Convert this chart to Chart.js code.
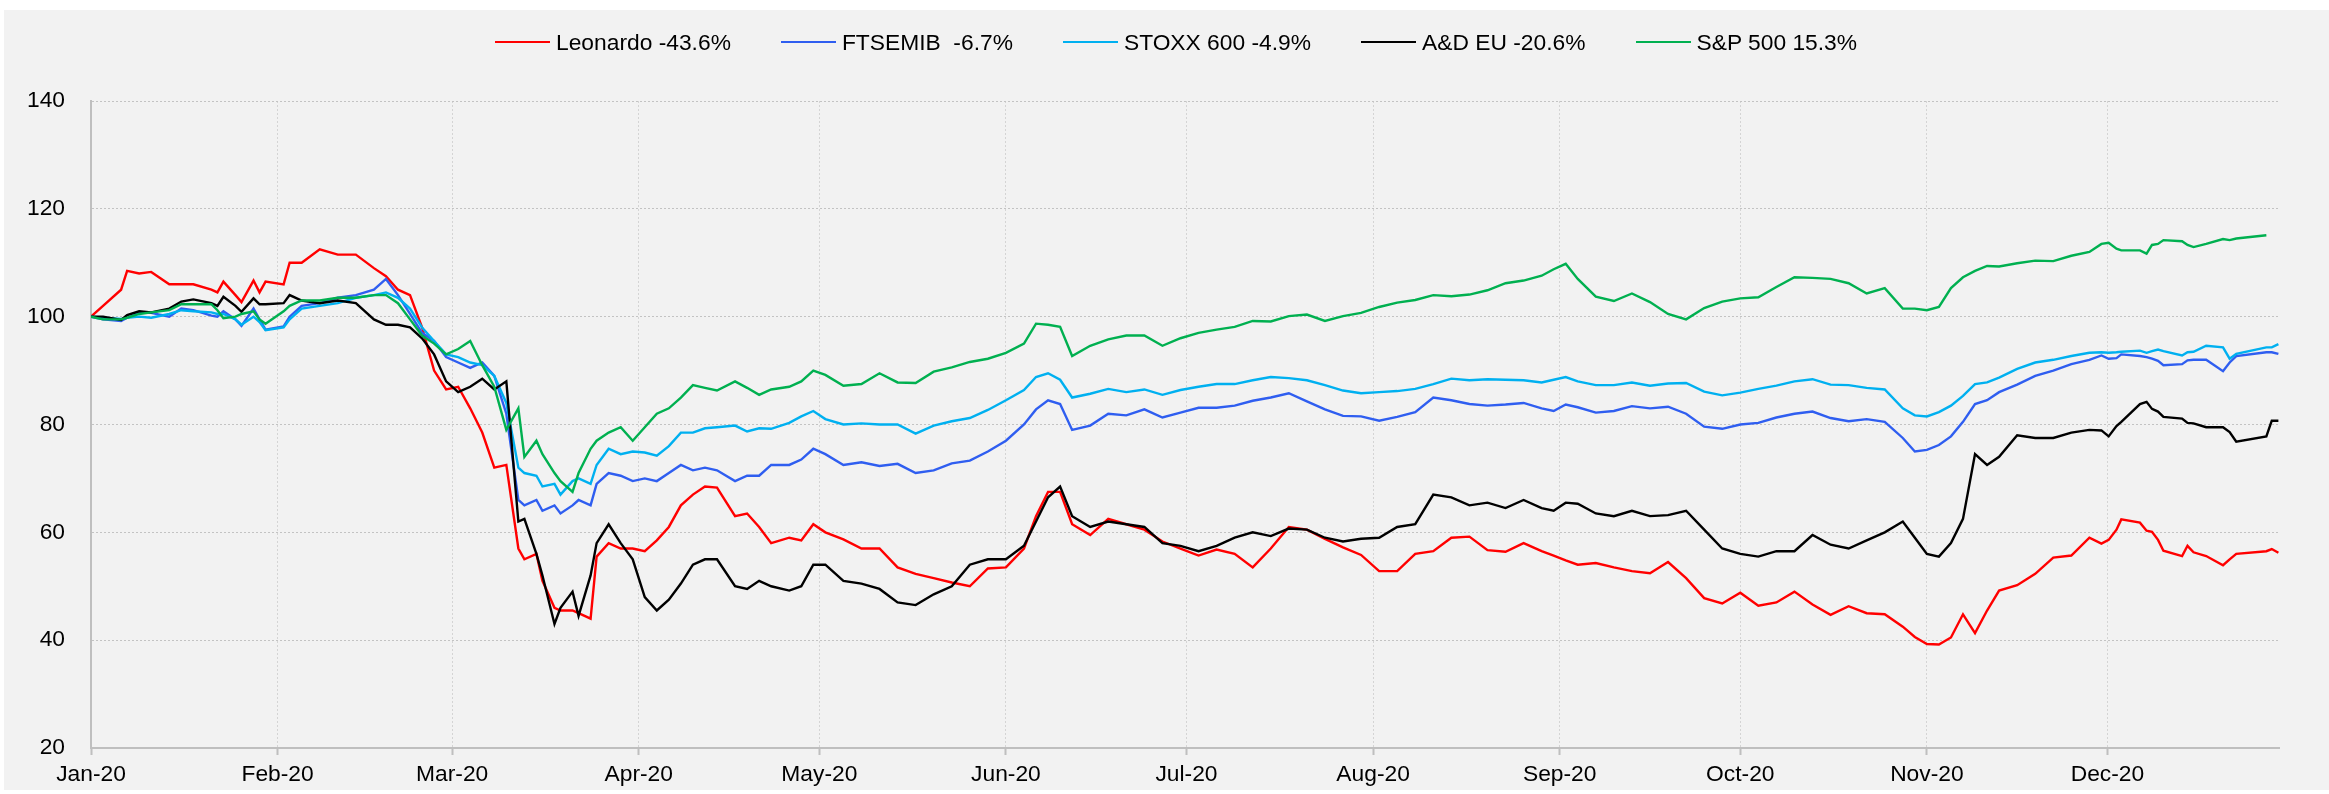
<!DOCTYPE html>
<html>
<head>
<meta charset="utf-8">
<title>Leonardo vs indices 2020</title>
<script src="https://cdn.jsdelivr.net/npm/chart.js@4.4.1/dist/chart.umd.min.js"></script>
<style>
  body { margin: 0; background: #fff; width: 2329px; height: 794px; overflow: hidden;
         font-family: "Liberation Sans", Arial, sans-serif; }
  #frame { position: absolute; left: 4px; top: 10px; width: 2325px; height: 780px; background: #f2f2f2; }
  #chart { position: absolute; left: 0; top: 0; }
  #legend { position: absolute; left: 491px; top: 19px; height: 26px; display: flex; align-items: center;
            font-size: 22.8px; color: #000; white-space: pre; }
  .item { display: flex; align-items: center; margin-right: 50px; }
  .swatch { width: 55px; height: 2px; margin-right: 6px; }
</style>
</head>
<body>
<div id="frame">
  <canvas id="chart" width="2325" height="780"></canvas>
  <div id="legend"></div>
</div>
<script>
// Sample points, in days since 1 Jan 2020
const days = [
  0,2,5,6,8,10,13,15,17,20,21,22,24,25,27,28,29,32,33,35,
  38,41,44,47,49,51,53,55,57,59,
  61,63,65,67,69,71,72,74,75,77,78,80,81,83,84,86,88,90,
  92,94,96,98,100,102,104,107,109,111,113,116,118,120,
  122,125,128,131,134,137,140,143,146,149,152,
  155,157,159,161,163,166,169,172,175,178,181,
  184,187,190,193,196,199,202,205,208,211,
  214,217,220,223,226,229,232,235,238,241,243,
  245,247,250,253,256,259,262,265,268,271,
  274,277,280,283,286,289,292,295,298,301,303,
  305,307,309,311,313,315,317,320,323,326,329,332,
  334,335.2,336.5,337.3,340.4,341.5,342.4,343.4,344.3,347.4,348.3,349.3,351.4,354.2,355.3,356.4,361.4,362.3,363.4
];

// Rebased to 100 (one row per month)
const leonardo = [
  100,102,105,108.5,108,108.3,106,106,106,105,104.5,106.5,104,102.7,106.7,104.5,106.5,106,110,110,
  112.5,111.5,111.5,109,107.5,105,104,98,90,86.5,
  87,83,78.5,72,72.5,57,55,56,51,46,45.5,45.5,45,44,55.5,58,57,57,
  56.5,58.5,61,65,67,68.5,68.3,63,63.5,61,58,59,58.5,61.5,
  60,58.7,57,57,53.5,52.3,51.5,50.7,50,53.3,53.5,
  57,63,67.5,67.5,61.5,59.5,62.5,61.5,60.5,58.3,57,
  55.7,56.8,56,53.5,57,61,60.5,58.8,57.2,55.8,
  52.8,52.8,56,56.5,59,59.2,56.7,56.4,58,56.5,55.7,
  54.8,54,54.3,53.5,52.8,52.4,54.5,51.5,47.8,46.8,
  48.8,46.4,47,49,46.6,44.7,46.3,45,44.8,42.5,40.6,
  39.3,39.2,40.5,44.8,41.3,45.5,49.2,50.2,52.3,55.3,55.7,59,
  57.9,58.6,60.5,62.4,61.8,60.3,60.1,58.6,56.6,55.6,57.5,56.3,55.6,53.9,55,56,56.5,56.9,56.2
];
const ftsemib = [
  100,99.5,99.2,99.8,100.8,100.7,100,101.5,101.2,100.2,100,101,99.5,98.3,101.5,99.5,97.6,98.2,100,102,
  102.5,103.5,104,105,107,104,100.5,97,95.5,92.5,
  91.5,90.5,91.5,89,82,66,65,66,64,65,63.5,65,66,65,69,71,70.5,69.5,
  70,69.5,71,72.5,71.5,72,71.5,69.5,70.5,70.5,72.5,72.5,73.5,75.5,
  74.5,72.5,73,72.3,72.7,71,71.5,72.8,73.3,75,77,
  80,82.8,84.5,83.8,79,79.8,82,81.7,82.8,81.3,82.2,
  83.1,83.1,83.5,84.4,85,85.8,84.3,82.8,81.6,81.5,
  80.7,81.4,82.3,85,84.5,83.8,83.5,83.7,84,83,82.5,
  83.7,83.2,82.2,82.5,83.4,83,83.3,82,79.6,79.2,
  80,80.3,81.3,82,82.4,81.2,80.6,81,80.5,77.5,75,
  75.3,76.2,77.8,80.5,83.8,84.5,86,87.4,89,90,91.2,92,
  92.8,92.2,92.3,93,92.7,92.5,92.2,91.8,91,91.2,91.9,92,92,89.9,91.5,92.7,93.4,93.4,93.1
];
const stoxx600 = [
  100,99.8,99.6,99.8,100,99.8,100.5,101.2,101,100.8,100.5,100.5,99.5,98.5,100,99,97.5,98,99.5,101.5,
  102,102.5,103.5,104,104.5,103.5,101.5,98,95.5,93,
  92.5,91.5,91,89,84,72,71,70.5,68.5,69,67,69.5,70,69,72.5,75.5,74.5,75,
  74.8,74.2,76,78.5,78.5,79.3,79.5,79.8,78.7,79.3,79.2,80.3,81.5,82.5,
  81,80,80.2,80,80,78.3,79.8,80.6,81.2,82.7,84.5,
  86.4,88.8,89.5,88.3,85,85.7,86.6,86,86.5,85.5,86.4,
  87,87.5,87.5,88.2,88.8,88.6,88.2,87.3,86.3,85.8,
  86,86.2,86.6,87.5,88.5,88.2,88.4,88.3,88.2,87.8,88.3,
  88.8,88,87.3,87.3,87.8,87.2,87.6,87.7,86.1,85.4,
  85.9,86.6,87.2,88,88.4,87.4,87.3,86.8,86.5,83,81.7,
  81.5,82.3,83.5,85.3,87.5,87.8,88.7,90.3,91.5,92,92.7,93.3,
  93.4,93.3,93.4,93.5,93.7,93.3,93.6,93.9,93.6,92.8,93.4,93.5,94.6,94.3,92.2,93.1,94.3,94.3,94.9
];
const aerodefEU = [
  100,100,99.4,100.3,101,100.8,101.5,102.8,103.2,102.5,102,103.7,102,100.9,103.4,102.3,102.3,102.5,104,103,
  102.5,103,102.5,99.5,98.5,98.5,98,96,93,88,
  86,87,88.5,86.5,88,62,62.5,56,52,43,46,49,44.5,52,58,61.5,58,55,
  48,45.5,47.5,50.5,54,55,55,50,49.5,51,50,49.2,50,54,
  54,51,50.5,49.5,47,46.5,48.5,50,54,55,55,
  57.5,62,66.5,68.5,63,61,62,61.5,61,58,57.5,
  56.5,57.5,59,60,59.3,60.7,60.5,59,58.3,58.8,
  59,61,61.5,67,66.5,65,65.5,64.5,66,64.5,64,
  65.5,65.3,63.5,63,64,63,63.2,64,60.5,57,
  56,55.5,56.5,56.5,59.5,57.7,57,58.5,60,62,59,
  56,55.5,58,62.5,74.5,72.5,74,78,77.5,77.5,78.5,79,
  78.9,77.8,79.7,80.5,83.8,84.2,82.9,82.4,81.4,81.1,80.3,80.2,79.5,79.5,78.6,76.8,77.8,80.7,80.7
];
const sp500 = [
  100,99.5,99.5,99.8,100.5,100.8,101.2,102.3,102.3,102.3,101.2,99.7,100,100.5,101,99.5,98.7,101,102,103,
  103,103.5,103.5,104,104,102.5,99.5,96.5,95,93,
  94,95.5,91,87,79,83,74,77,74.5,71,69.5,67.5,71,75.5,77,78.5,79.5,77,
  79.5,82,83,85,87.3,86.8,86.3,88,86.8,85.5,86.5,87,88,90,
  89.2,87.2,87.5,89.5,87.8,87.7,89.8,90.6,91.6,92.2,93.3,
  95,98.7,98.5,98.1,92.7,94.6,95.8,96.5,96.5,94.6,96,
  97,97.6,98.1,99.2,99.1,100.1,100.4,99.2,100.1,100.7,
  101.8,102.6,103.1,104,103.8,104.1,104.9,106.2,106.7,107.6,108.8,
  109.8,107,103.7,102.9,104.3,102.7,100.5,99.5,101.6,102.8,
  103.4,103.6,105.5,107.3,107.2,107,106.2,104.3,105.3,101.5,101.5,
  101.2,101.8,105.3,107.3,108.5,109.4,109.3,109.9,110.4,110.3,111.3,112,
  113.5,113.7,112.6,112.3,112.3,111.7,113.3,113.5,114.2,114,113.3,112.9,113.5,114.4,114.2,114.5,115.1,null,null
];

const seriesNames = ['Leonardo -43.6%', 'FTSEMIB  -6.7%', 'STOXX 600 -4.9%', 'A&D EU -20.6%', 'S&P 500 15.3%'];
const seriesColors = ['#ff0000', '#2f5ef0', '#00b0f0', '#000000', '#00b050'];

// Axis ticks (month starts, days since 1 Jan 2020)
const monthStarts = [0, 31, 60, 91, 121, 152, 182, 213, 244, 274, 305, 335];
const monthLabels = ['Jan-20','Feb-20','Mar-20','Apr-20','May-20','Jun-20','Jul-20','Aug-20','Sep-20','Oct-20','Nov-20','Dec-20'];
const yTicks = [20, 40, 60, 80, 100, 120, 140];

const font = { family: '"Liberation Sans", Arial, sans-serif', size: 22.8 };

const datasets = [leonardo, ftsemib, stoxx600, aerodefEU, sp500].map((vals, i) => ({
    label: seriesNames[i],
    data: vals.map((v, j) => ({ x: days[j], y: v })),
    borderColor: seriesColors[i],
    backgroundColor: seriesColors[i],
    borderWidth: 2.4,
    pointRadius: 0,
    tension: 0,
    spanGaps: false,
    order: 5 - i
}));

const chart = new Chart(document.getElementById('chart'), {
    type: 'line',
    data: { datasets },
    options: {
        responsive: false,
        animation: false,
        layout: { padding: { top: 91, right: 50, left: 0, bottom: 0 } },
        plugins: { legend: { display: false }, tooltip: { enabled: false } },
        scales: {
            x: {
                type: 'linear',
                min: 0,
                max: 363.5,
                afterBuildTicks: scale => { scale.ticks = monthStarts.map(v => ({ value: v })); },
                afterFit: scale => { scale.height = 42; },
                ticks: {
                    autoSkip: false,
                    maxRotation: 0,
                    padding: 6,
                    color: '#000',
                    font,
                    callback: (value) => monthLabels[monthStarts.indexOf(value)]
                },
                grid: { color: '#d4d4d4', lineWidth: 1, tickLength: 7, tickColor: '#bfbfbf', tickWidth: 2 },
                border: { color: '#bfbfbf', width: 2, dash: [2, 2] }
            },
            y: {
                min: 20,
                max: 140,
                afterBuildTicks: scale => { scale.ticks = yTicks.map(v => ({ value: v })); },
                afterFit: scale => { scale.width = 87; },
                ticks: { padding: 26, color: '#000', font },
                grid: { color: '#c3c3c3', lineWidth: 1, drawTicks: false },
                border: { color: '#bfbfbf', width: 2, dash: [2, 2] }
            }
        }
    }
});

// HTML legend
document.getElementById('legend').innerHTML = chart.data.datasets.map(ds => `
    <div class="item">
        <span class="swatch" style="background:${ds.borderColor}"></span>
        <span>${ds.label}</span>
    </div>
`).join('');
</script>
</body>
</html>
